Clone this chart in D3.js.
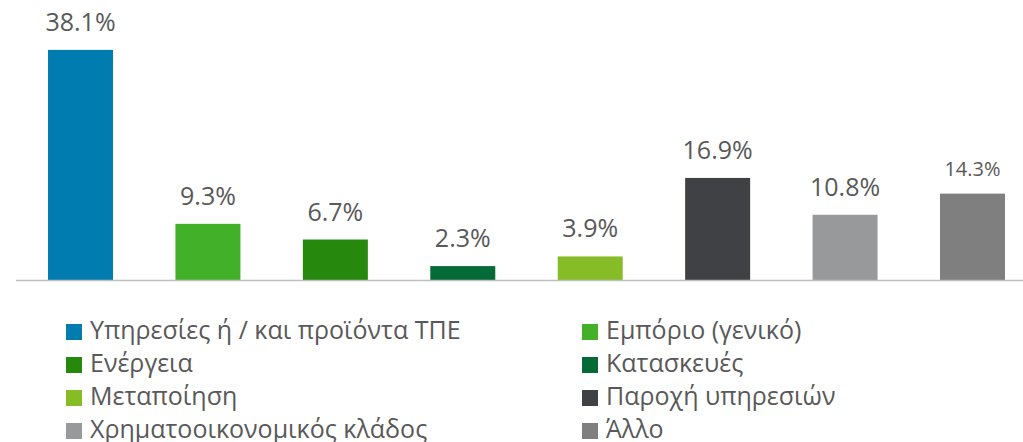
<!DOCTYPE html>
<html><head><meta charset="utf-8">
<script src="https://cdn.jsdelivr.net/npm/d3@7"></script>
<style>html,body{margin:0;padding:0;background:#fff;overflow:hidden}</style>
</head><body>
<svg id="c" width="1023" height="442"></svg>
<script>
const categories = ["Υπηρεσίες ή / και προϊόντα ΤΠΕ","Εμπόριο (γενικό)","Ενέργεια","Κατασκευές","Μεταποίηση","Παροχή υπηρεσιών","Χρηματοοικονομικός κλάδος","Άλλο"];
const values = [38.1, 9.3, 6.7, 2.3, 3.9, 16.9, 10.8, 14.3];
const valueLabels = ["38.1%","9.3%","6.7%","2.3%","3.9%","16.9%","10.8%","14.3%"];
const colors = ["#007CB0","#43B02A","#26890D","#046A38","#86BC25","#404144","#97999B","#7F7F7F"];

const svg = d3.select("#c");
const font = "'Open Sans', 'Noto Sans', sans-serif";
const textColor = "#595959";

const x = d3.scaleBand().domain(categories).range([16.8, 1036.2]).paddingInner(0.49).paddingOuter(0.245);
const y = d3.scaleLinear().domain([0, 40]).range([280, 38.4]);

svg.append("g").selectAll("rect").data(categories).join("rect")
  .attr("x", d => x(d)).attr("width", x.bandwidth())
  .attr("y", (d,i) => y(values[i])).attr("height", (d,i) => y(0) - y(values[i]))
  .attr("fill", (d,i) => colors[i]);

svg.append("line").attr("x1", 16).attr("x2", 1023).attr("y1", y(0)+0.5).attr("y2", y(0)+0.5)
  .attr("stroke", "#BFBFBF").attr("stroke-width", 1.5);

svg.append("g").selectAll("text").data(categories).join("text")
  .attr("x", d => x(d) + x.bandwidth()/2)
  .attr("y", (d,i) => y(values[i]) - (i === 7 ? 18 : 19))
  .attr("text-anchor", "middle")
  .attr("font-family", font)
  .attr("font-size", (d,i) => i === 7 ? 20 : 25)
  .attr("fill", textColor)
  .text((d,i) => valueLabels[i]);

const legend = svg.append("g");
const colX = [66, 582];
const rowY = [332, 365, 398, 431];
categories.forEach((c, i) => {
  const cx = colX[i % 2], cy = rowY[Math.floor(i / 2)];
  legend.append("rect").attr("x", cx).attr("y", cy - 8).attr("width", 16).attr("height", 16).attr("fill", colors[i]);
  legend.append("text").attr("x", cx + 24).attr("y", cy + 7)
    .attr("font-family", font).attr("font-size", 25).attr("fill", textColor).text(c);
});
</script>
</body></html>
